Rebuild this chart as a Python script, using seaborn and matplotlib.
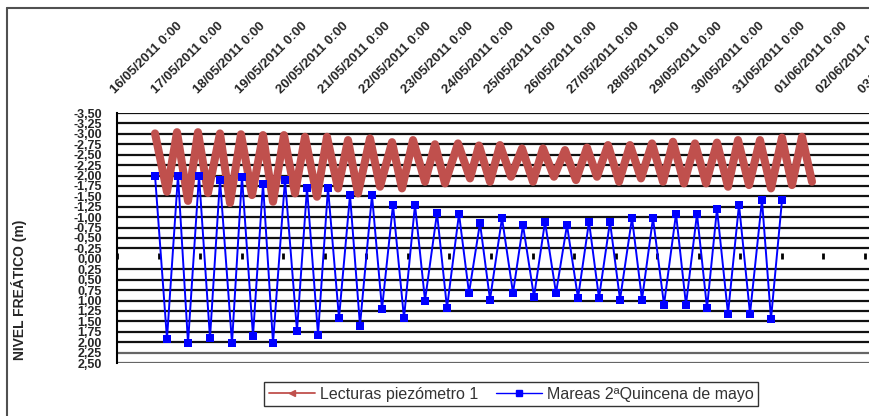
import matplotlib
matplotlib.use("Agg")
import matplotlib.pyplot as plt
import seaborn as sns
import pandas as pd
from matplotlib.lines import Line2D

# ---------------- data ----------------
date_labels = ["16/05/2011 0:00", "17/05/2011 0:00", "18/05/2011 0:00", "19/05/2011 0:00",
               "20/05/2011 0:00", "21/05/2011 0:00", "22/05/2011 0:00", "23/05/2011 0:00",
               "24/05/2011 0:00", "25/05/2011 0:00", "26/05/2011 0:00", "27/05/2011 0:00",
               "28/05/2011 0:00", "29/05/2011 0:00", "30/05/2011 0:00", "31/05/2011 0:00",
               "01/06/2011 0:00", "02/06/2011 0:00", "03/06/2011 0:00"]

# days elapsed since 16/05/2011 0:00
red_days = [0.915, 1.203, 1.444, 1.709, 1.949, 2.190, 2.479, 2.720, 2.984, 3.249,
            3.514, 3.755, 4.019, 4.284, 4.525, 4.813, 5.054, 5.319, 5.560, 5.800,
            6.089, 6.330, 6.619, 6.859, 7.124, 7.413, 7.653, 7.894, 8.207, 8.496,
            8.712, 8.977, 9.218, 9.483, 9.747, 10.012, 10.253, 10.517, 10.782, 11.047,
            11.312, 11.552, 11.817, 12.082, 12.347, 12.611, 12.876, 13.141, 13.381, 13.646,
            13.911, 14.176, 14.440, 14.705, 14.946, 15.211, 15.475, 15.740, 16.005, 16.245,
            16.486, 16.727]
red_level = [-3.01, -1.61, -3.04, -1.39, -3.04, -1.58, -3.01, -1.34, -2.99, -1.53,
             -2.97, -1.37, -2.97, -1.57, -2.93, -1.49, -2.93, -1.69, -2.85, -1.57,
             -2.89, -1.73, -2.80, -1.69, -2.85, -1.85, -2.75, -1.81, -2.77, -1.93,
             -2.72, -1.85, -2.73, -1.97, -2.65, -1.85, -2.65, -1.97, -2.61, -1.89,
             -2.67, -1.97, -2.73, -1.85, -2.73, -1.93, -2.77, -1.85, -2.81, -1.81,
             -2.77, -1.81, -2.79, -1.73, -2.85, -1.77, -2.85, -1.69, -2.91, -1.77,
             -2.93, -1.85]

blue_days = [0.915, 1.203, 1.468, 1.709, 1.974, 2.238, 2.479, 2.768, 3.008, 3.273,
             3.514, 3.755, 4.043, 4.332, 4.573, 4.838, 5.078, 5.343, 5.608, 5.848,
             6.137, 6.378, 6.643, 6.907, 7.172, 7.413, 7.702, 7.942, 8.231, 8.472,
             8.736, 8.977, 9.266, 9.531, 9.771, 10.036, 10.301, 10.566, 10.830, 11.095,
             11.360, 11.600, 11.865, 12.106, 12.395, 12.635, 12.900, 13.165, 13.454, 13.694,
             13.959, 14.200, 14.440, 14.705, 14.970, 15.235, 15.523, 15.740, 16.005]
blue_level = [-2.00, 1.92, -2.00, 2.02, -2.00, 1.90, -1.90, 2.02, -1.97, 1.85,
              -1.80, 2.02, -1.90, 1.73, -1.70, 1.82, -1.70, 1.42, -1.53, 1.60,
              -1.53, 1.20, -1.30, 1.42, -1.30, 1.00, -1.10, 1.18, -1.08, 0.82,
              -0.86, 0.98, -0.98, 0.82, -0.81, 0.91, -0.89, 0.82, -0.81, 0.94,
              -0.89, 0.94, -0.89, 0.98, -0.98, 0.98, -0.98, 1.10, -1.08, 1.10,
              -1.08, 1.18, -1.20, 1.32, -1.30, 1.32, -1.41, 1.44, -1.41]

y_ticks = [-3.50, -3.25, -3.00, -2.75, -2.50, -2.25, -2.00, -1.75, -1.50, -1.25,
           -1.00, -0.75, -0.50, -0.25, 0.00, 0.25, 0.50, 0.75, 1.00, 1.25,
           1.50, 1.75, 2.00, 2.25, 2.50]

red_name = "Lecturas piezómetro 1"
blue_name = "Mareas 2ªQuincena de mayo"

red_df = pd.DataFrame({"dia": red_days, "nivel": red_level})
blue_df = pd.DataFrame({"dia": blue_days, "nivel": blue_level})

# ---------------- style ----------------
sns.set_style("white")
plt.rcParams["font.family"] = ["Liberation Sans", "DejaVu Sans"]

RED = "#C0504D"
BLUE = "#0000FF"

fig = plt.figure(figsize=(8.69, 4.16), dpi=100)
ax = fig.add_axes([117 / 869, 1 - 363 / 416, 1 - 117 / 869, 250 / 416])

# grid lines (every 0.25 except 0)
for v in y_ticks:
    if v == 0:
        continue
    ax.axhline(v, color="#111111" if v < 2.2 else "#666666", lw=1.6, zorder=0)

sns.lineplot(data=red_df, x="dia", y="nivel", ax=ax, sort=False, estimator=None,
             color=RED, lw=5.8, solid_joinstyle="round", solid_capstyle="round", zorder=2)
sns.lineplot(data=blue_df, x="dia", y="nivel", ax=ax, sort=False, estimator=None,
             color=BLUE, lw=1.4, marker="s", markersize=5.5, markeredgewidth=0,
             zorder=3)

ax.set_xlim(0, (869 - 117) / 41.55)
ax.set_ylim(2.5, -3.5)
ax.set_xlabel("")
ax.set_ylabel("")

# y axis
ax.set_yticks(y_ticks)
ax.set_yticklabels([f"{v:.2f}".replace(".", ",") for v in y_ticks],
                   fontsize=9, fontweight="bold")
ax.tick_params(axis="y", direction="out", length=4, width=1.5, color="black", pad=7)

# x axis: tick marks at value 0, labels on top
ax.set_xticks(range(len(date_labels)))
ax.set_xticklabels(date_labels)
ax.spines["bottom"].set_position(("data", 0))
ax.spines["bottom"].set_visible(False)
ax.spines["top"].set_visible(False)
ax.spines["right"].set_visible(False)
ax.spines["left"].set_color("black")
ax.spines["left"].set_linewidth(1.5)
ax.tick_params(axis="x", bottom=True, top=False, labelbottom=False, labeltop=True,
               direction="in", length=4, width=2, color="black", pad=12)
for tick in ax.xaxis.get_major_ticks():
    lab = tick.label2
    lab.set_rotation(45)
    lab.set_rotation_mode("anchor")
    lab.set_ha("left")
    lab.set_va("bottom")
    lab.set_fontsize(9.5)
    lab.set_fontweight("bold")

# y label
fig.text(19 / 869, 1 - 290 / 416, "NIVEL FREÁTICO (m)", rotation=90,
         ha="center", va="center", fontsize=10, fontweight="bold")

# chart frame (left and top borders)
fig.add_artist(Line2D([7 / 869, 7 / 869], [0, 1 - 8 / 416], transform=fig.transFigure,
                      color="#505050", lw=1.5))
fig.add_artist(Line2D([7 / 869, 1], [1 - 8 / 416, 1 - 8 / 416], transform=fig.transFigure,
                      color="#505050", lw=1.5))

# legend
handles = [Line2D([], [], color=RED, lw=1.3, marker="<", markersize=4),
           Line2D([], [], color=BLUE, lw=1.0, marker="s", markersize=5)]
leg = fig.legend(handles, [red_name, blue_name], loc="center",
                 bbox_to_anchor=(511 / 869, 1 - 394 / 416), ncol=2, frameon=True,
                 fancybox=False, edgecolor="black", fontsize=11.5, handlelength=2.9,
                 handletextpad=0.3, columnspacing=1.1, borderpad=0.3)
leg.get_frame().set_linewidth(1.0)
for t in leg.get_texts():
    t.set_color("#333333")

fig.savefig("out.png", dpi=100)
